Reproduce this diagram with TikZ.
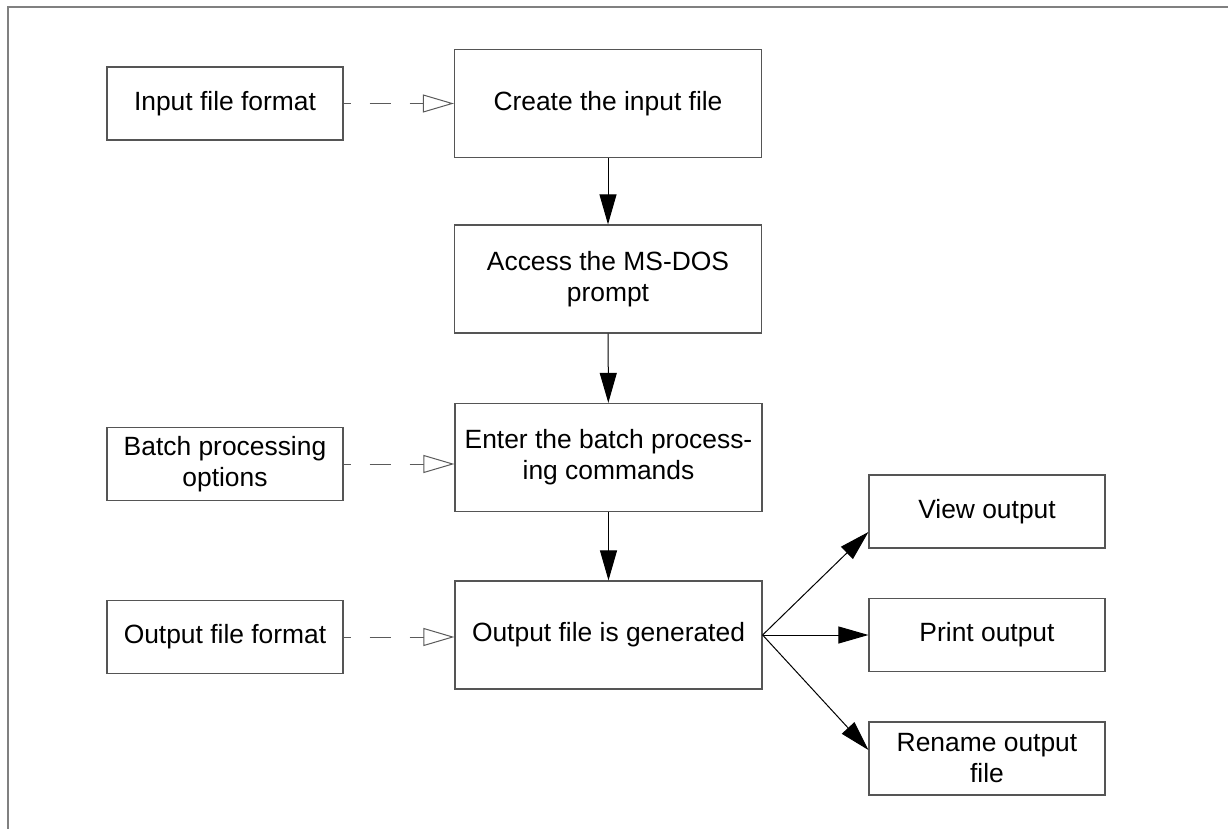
\documentclass[tikz,border=0pt]{standalone}
\usepackage{fontspec}
\setmainfont{Liberation Sans}
\usepackage{tikz}
\usepackage{xcolor}
\usetikzlibrary{arrows.meta, positioning}
\definecolor{framecolor}{RGB}{128,128,128}
\definecolor{boxcolor}{RGB}{85,85,85}
\definecolor{dashcolor}{RGB}{90,90,90}
\tikzstyle{sidebox} = [rectangle, draw=boxcolor, line width=0.6pt, minimum width=118pt, minimum height=36.5pt, align=center, inner sep=0pt]
\tikzstyle{stepbox} = [rectangle, draw=boxcolor, line width=0.6pt, minimum width=153.5pt, minimum height=54pt, align=center, inner sep=0pt]
\tikzstyle{arrow} = [-{Triangle[length=15pt, width=8.5pt]}, line width=0.5pt]
\tikzstyle{dasharrow} = [-{Triangle[open, length=15.5pt, width=9pt, fill=white]}, line width=0.5pt, color=dashcolor, dash pattern=on 10.5pt off 9.5pt, dash phase=7pt]

\begin{document}
\begin{tikzpicture}[x=0.5pt, y=-0.5pt, font=\fontsize{13.2}{15.5}\selectfont]
    \useasboundingbox (0,0) rectangle (1228,829);

    % Frame
    \draw[framecolor, line width=1pt] (8,829) -- (8,7) -- (1228,7);

    % Main steps
    \node[stepbox] (create) at (608, 103.5) {Create the input file};
    \node[stepbox] (access) at (608, 279) {Access the MS-DOS\\prompt};
    \node[stepbox] (enter) at (608.5, 457.5) {Enter the batch process-\\ing commands};
    \node[stepbox] (output) at (608.5, 635) {Output file is generated};
    \draw[arrow] (create) -- (access);
    \draw[arrow] (access) -- (enter);
    \draw[arrow] (enter) -- (output);

    % Reference topics
    \node[sidebox] (infmt) at (225, 103.5) {Input file format};
    \node[sidebox] (batchopt) at (225, 464) {Batch processing\\options};
    \node[sidebox] (outfmt) at (225, 637) {Output file format};
    \draw[dasharrow] (infmt) -- (create);
    \draw[dasharrow] (batchopt.east) -- (batchopt.east -| enter.west);
    \draw[dasharrow] (outfmt.east) -- (outfmt.east -| output.west);

    % Output actions
    \node[sidebox] (view) at (987, 511.5) {View output};
    \node[sidebox] (print) at (987, 635) {Print output};
    \node[sidebox] (rename) at (987, 758.5) {Rename output\\file};
    \draw[arrow] (output.east) -- ([yshift=-10.25pt]view.west);
    \draw[arrow] (output.east) -- (print.west);
    \draw[arrow] (output.east) -- ([yshift=4.25pt]rename.west);
\end{tikzpicture}
\end{document}
